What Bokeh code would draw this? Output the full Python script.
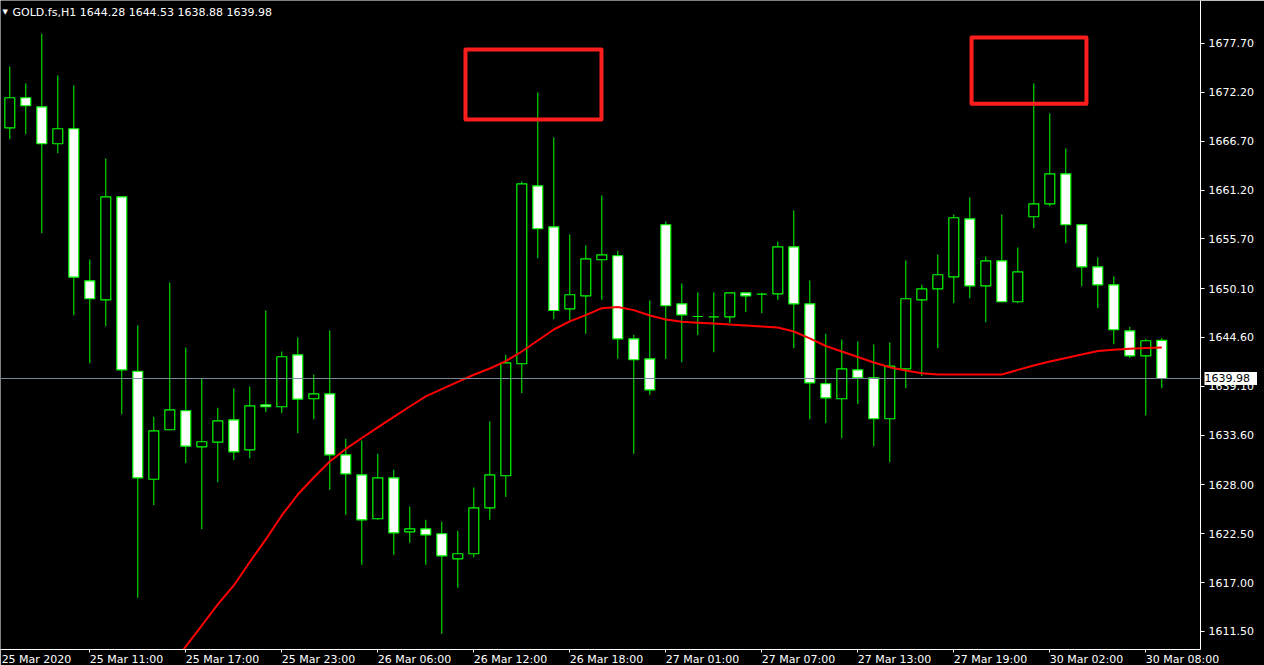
from bokeh.plotting import figure
from bokeh.models import Range1d, FixedTicker, NumeralTickFormatter, Span, Label, ColumnDataSource
from bokeh.embed import file_html
from bokeh.resources import INLINE

NAN = float("nan")

# ---- data (GOLD.fs, H1) ----
opens = [1668.21, 1671.59, 1670.57, 1666.41, 1668.10, 1650.98, 1648.84, 1660.44, 1640.80, 1628.64,
         1634.21, 1636.35, 1632.29, 1632.81, 1635.33, 1631.95, 1637.02, 1636.80, 1642.65, 1637.70,
         1638.26, 1631.39, 1629.14, 1624.19, 1628.80, 1622.72, 1623.06, 1622.50, 1619.68, 1620.25,
         1625.42, 1629.03, 1641.64, 1661.68, 1657.06, 1647.83, 1649.29, 1653.35, 1653.80, 1644.45,
         1642.20, 1657.29, 1648.39, 1646.96, 1646.93, 1646.93, 1649.63, 1649.47, 1649.52, 1654.81,
         1648.39, 1639.39, 1637.70, 1640.96, 1640.06, 1635.45, 1641.07, 1648.84, 1650.08, 1651.43,
         1657.96, 1650.42, 1653.23, 1648.62, 1658.19, 1659.65, 1663.03, 1657.29, 1652.56, 1650.53,
         1645.35, 1642.54, 1644.28]
highs = [1675.11, 1673.20, 1678.79, 1674.10, 1672.97, 1653.38, 1664.75, 1660.50, 1645.95, 1635.67,
         1650.79, 1643.47, 1639.98, 1636.68, 1638.86, 1639.08, 1647.64, 1643.02, 1644.60, 1640.43,
         1645.39, 1633.19, 1633.00, 1631.50, 1629.70, 1625.57, 1624.07, 1623.85, 1622.83, 1627.71,
         1635.14, 1642.65, 1662.16, 1672.18, 1667.12, 1656.20, 1654.96, 1660.59, 1654.36, 1644.90,
         1648.76, 1657.66, 1650.68, 1649.67, 1649.67, 1649.67, 1649.67, 1649.63, 1655.41, 1658.90,
         1651.02, 1645.02, 1644.37, 1644.15, 1643.81, 1644.04, 1653.27, 1650.53, 1653.94, 1658.45,
         1660.36, 1653.72, 1658.45, 1654.73, 1673.20, 1669.82, 1665.88, 1657.35, 1653.61, 1651.47,
         1645.80, 1644.45, 1644.53]
lows = [1666.93, 1667.49, 1656.34, 1665.35, 1647.11, 1641.70, 1645.87, 1635.96, 1615.29, 1625.72,
        1634.15, 1630.45, 1623.02, 1628.31, 1630.78, 1631.01, 1636.19, 1636.08, 1633.82, 1635.40,
        1627.45, 1624.64, 1619.01, 1624.07, 1620.13, 1621.48, 1619.01, 1611.24, 1616.42, 1619.86,
        1624.07, 1626.66, 1638.33, 1653.53, 1646.66, 1646.51, 1645.02, 1648.84, 1642.20, 1631.50,
        1638.15, 1642.18, 1641.82, 1644.86, 1642.94, 1646.25, 1647.45, 1647.33, 1648.84, 1643.39,
        1635.40, 1634.95, 1633.26, 1637.09, 1632.36, 1630.56, 1638.89, 1640.26, 1643.39, 1648.46,
        1649.02, 1646.32, 1648.55, 1648.46, 1656.90, 1659.38, 1655.22, 1650.37, 1647.90, 1643.84,
        1642.31, 1635.82, 1638.88]
closes = [1671.59, 1670.69, 1666.41, 1668.10, 1651.39, 1648.96, 1660.44, 1640.96, 1628.80, 1634.09,
          1636.46, 1632.36, 1632.86, 1635.22, 1631.73, 1636.91, 1636.80, 1642.43, 1637.65, 1638.26,
          1631.39, 1629.25, 1624.07, 1628.80, 1622.61, 1623.06, 1622.38, 1620.02, 1620.25, 1625.42,
          1629.14, 1641.75, 1661.90, 1656.84, 1647.64, 1649.41, 1653.46, 1653.91, 1644.45, 1642.09,
          1638.71, 1648.17, 1647.15, 1646.96, 1646.93, 1649.63, 1649.29, 1649.47, 1654.81, 1648.39,
          1639.50, 1637.81, 1641.07, 1640.06, 1635.45, 1641.37, 1648.96, 1650.08, 1651.66, 1658.08,
          1650.42, 1653.23, 1648.62, 1651.99, 1659.65, 1663.03, 1657.29, 1652.56, 1650.53, 1645.47,
          1642.54, 1644.23, 1639.98]
ma_values = [NAN, NAN, NAN, NAN, NAN, NAN, NAN, NAN, NAN, NAN,
             1607.45, 1609.81, 1612.17, 1614.54, 1616.68, 1619.32, 1621.86, 1624.56, 1626.92, 1628.84,
             1630.64, 1632.05, 1633.28, 1634.47, 1635.66, 1636.83, 1637.96, 1638.78, 1639.60, 1640.40,
             1641.11, 1641.94, 1643.02, 1644.26, 1645.50, 1646.42, 1647.12, 1647.90, 1648.03, 1647.68,
             1647.08, 1646.63, 1646.36, 1646.27, 1646.18, 1646.06, 1645.95, 1645.84, 1645.72, 1645.27,
             1644.49, 1643.64, 1643.02, 1642.40, 1641.78, 1641.24, 1640.88, 1640.58, 1640.43, 1640.43,
             1640.43, 1640.43, 1640.43, 1640.95, 1641.45, 1641.90, 1642.30, 1642.69, 1643.07, 1643.23,
             1643.34, 1643.41, 1643.47]

x_tick_bars = [5, 11, 17, 23, 29, 35, 41, 47, 53, 59, 65, 71]
x_tick_labels = ["25 Mar 11:00", "25 Mar 17:00", "25 Mar 23:00", "26 Mar 06:00", "26 Mar 12:00",
                 "26 Mar 18:00", "27 Mar 01:00", "27 Mar 07:00", "27 Mar 13:00", "27 Mar 19:00",
                 "30 Mar 02:00", "30 Mar 08:00"]
first_label = "25 Mar 2020"
y_ticks = [1611.50, 1617.00, 1622.50, 1628.00, 1633.60, 1639.10, 1644.60, 1650.10, 1655.70,
           1661.20, 1666.70, 1672.20, 1677.70]
last_price = 1639.98
title_text = "GOLD.fs,H1  1644.28 1644.53 1638.88 1639.98"

# highlighted regions (bar index / price)
box_left = [28.48, 60.11]
box_right = [36.98, 67.29]
box_top = [1677.02, 1678.38]
box_bottom = [1669.14, 1670.91]

FONT = "DejaVu Sans"
GREEN = "#00ff00"
X0, X1 = -0.581, 74.419
Y0, Y1 = 1609.47, 1682.54
PX_PER_BAR = 16.0
# time labels start at their tick (MetaTrader style): shift the label anchor
# by half of the label's width (~73 px for "DD Mon HH:MM")
HALF_LABEL = 36.7 / PX_PER_BAR
HALF_FIRST = 35.0 / PX_PER_BAR

idx = list(range(len(opens)))
src = ColumnDataSource(dict(
    x=idx,
    o=opens, h=highs, l=lows, c=closes,
    top=[max(a, b) for a, b in zip(opens, closes)],
    bot=[min(a, b) for a, b in zip(opens, closes)],
    fill=["white" if c < o else "black" for o, c in zip(opens, closes)],
))

p = figure(frame_width=1200, frame_height=649,
           x_range=Range1d(X0, X1), y_range=Range1d(Y0, Y1),
           y_axis_location="right", output_backend="svg", toolbar_location=None,
           background_fill_color="black", border_fill_color="black",
           min_border_left=0, min_border_top=0, min_border_right=64, min_border_bottom=16)
p.outline_line_color = None
p.grid.visible = False

for ax in (p.xaxis[0], p.yaxis[0]):
    ax.axis_line_color = "white"
    ax.axis_line_width = 1
    ax.major_tick_line_color = "white"
    ax.minor_tick_line_color = None
    ax.major_tick_in = 0
    ax.major_label_text_color = "white"
    ax.major_label_text_font = FONT
    ax.major_label_text_font_size = "11px"

p.yaxis[0].ticker = FixedTicker(ticks=y_ticks)
p.yaxis[0].formatter = NumeralTickFormatter(format="0.00")
p.yaxis[0].major_tick_out = 4
p.yaxis[0].major_label_standoff = 4

# time axis: visible tick marks (minor) at the bars, labels anchored right of them
first_anchor = X0 + (1.0 / PX_PER_BAR) + HALF_FIRST
label_anchors = [first_anchor] + [b + HALF_LABEL for b in x_tick_bars]
label_texts = [first_label] + x_tick_labels
xa = p.xaxis[0]
xa.ticker = FixedTicker(ticks=label_anchors, minor_ticks=x_tick_bars)
xa.major_label_overrides = {t: s for t, s in zip(label_anchors, label_texts)}
xa.major_tick_line_color = None
xa.major_tick_out = 3
xa.minor_tick_line_color = "white"
xa.minor_tick_in = 0
xa.minor_tick_out = 3
xa.major_label_standoff = 0

# current price line
p.add_layout(Span(location=last_price, dimension="width", line_color="#778899", line_width=1))

# candles
p.segment(x0="x", y0="l", x1="x", y1="h", source=src, line_color=GREEN, line_width=1)
p.vbar(x="x", width=0.62, top="top", bottom="bot", source=src,
       fill_color="fill", line_color=GREEN, line_width=1.2)

# moving average
p.line(idx, ma_values, line_color="#ff0000", line_width=2)

# highlight boxes
p.quad(left=box_left, right=box_right, top=box_top, bottom=box_bottom,
       fill_color=None, line_color="#ff1e1e", line_width=4, line_join="round")

# title
p.add_layout(Label(x=2, x_units="screen", y=1681.2, text="▼", text_color="white",
                   text_font=FONT, text_font_size="7px", text_baseline="middle"))
p.add_layout(Label(x=12, x_units="screen", y=1681.2, text=title_text, text_color="white",
                   text_font=FONT, text_font_size="11px", text_baseline="middle"))

# price tag on the price axis (kept in a side panel so it is not clipped to the frame;
# that panel itself lies just past the right edge of the window)
tag_kw = dict(y=last_price, text=" 1639.98 ", text_color="black", text_font=FONT,
              text_font_size="11px", text_baseline="middle", background_fill_color="white")
try:
    tag = Label(x=1204, x_units="canvas", **tag_kw)
except Exception:
    tag = Label(x=-58, x_units="screen", **tag_kw)
p.add_layout(tag, "right")

open("out.html", "w").write(file_html(p, INLINE))
